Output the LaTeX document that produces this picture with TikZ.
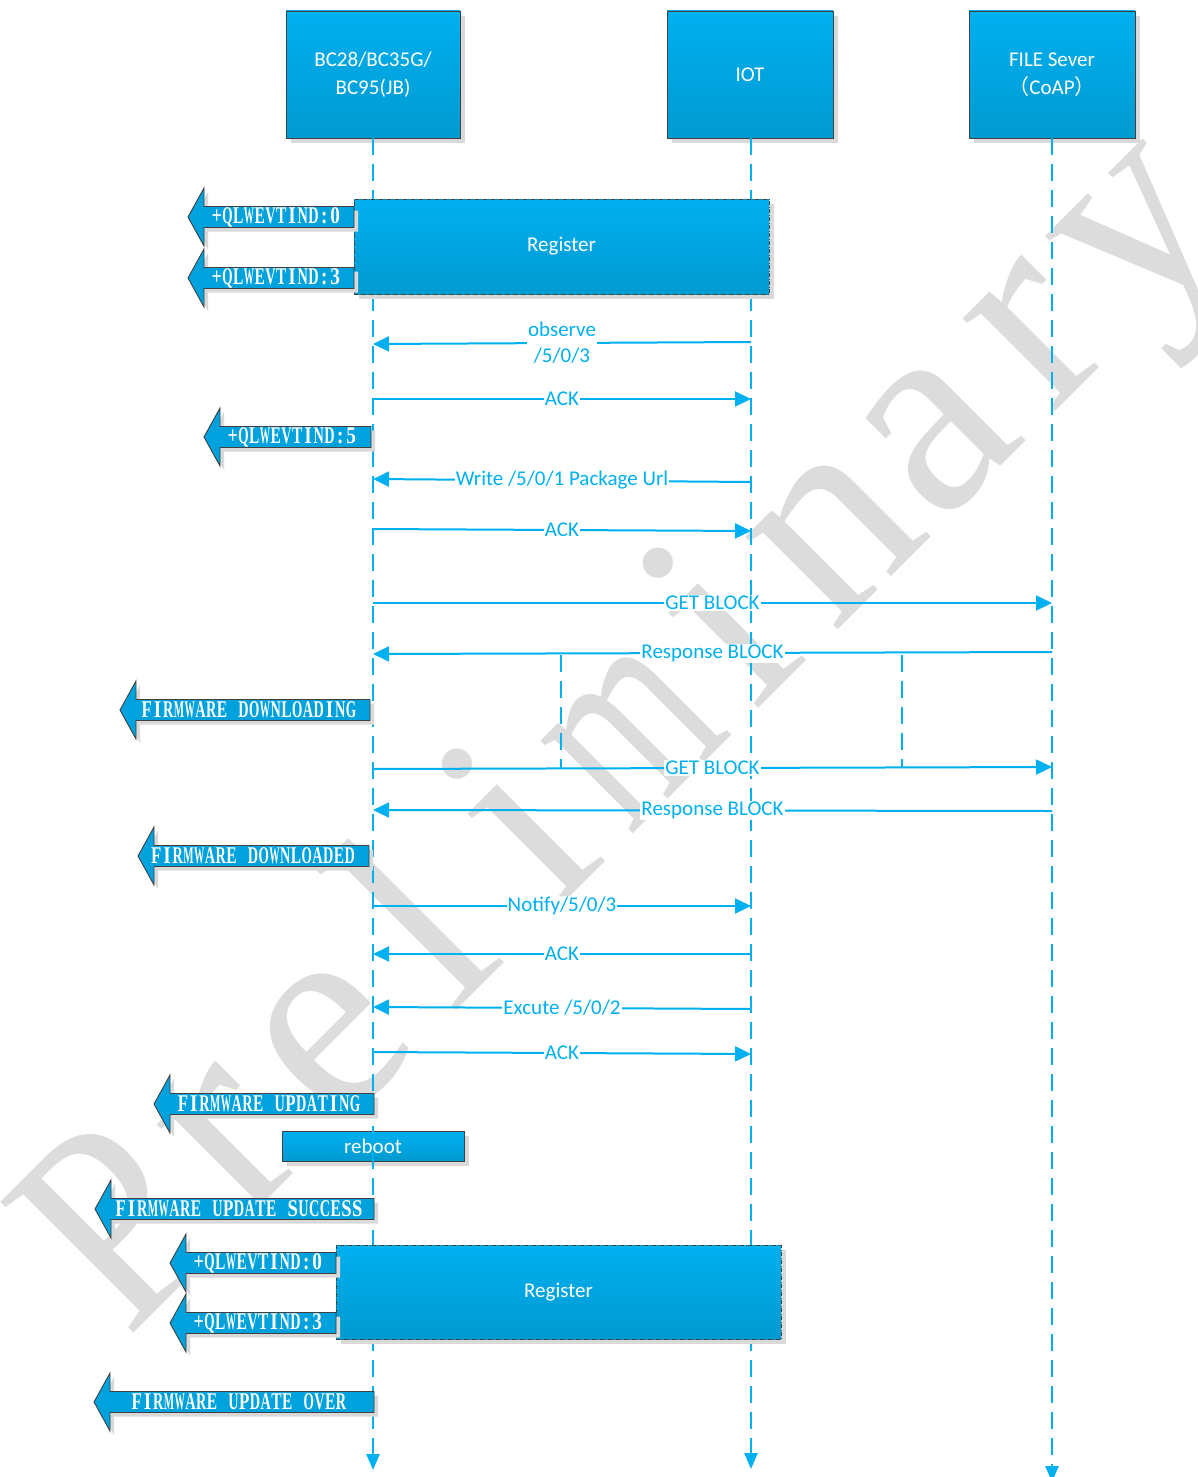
\documentclass[tikz,border=0pt]{standalone}
\usepackage{fontspec}
\setmainfont{Carlito}
\newfontfamily\cjk{Noto Sans CJK SC}
\newfontfamily\condfont[FakeStretch=0.8]{Liberation Serif}
\newfontfamily\wmfont{Liberation Serif}
\usetikzlibrary{arrows.meta,shadows}
\definecolor{lblue}{HTML}{00B0F0}
\definecolor{boxtop}{HTML}{00B0F0}
\definecolor{boxbot}{HTML}{009AD0}
\definecolor{arrfill}{HTML}{00A2DE}
\definecolor{edgec}{HTML}{404040}
\definecolor{shad}{HTML}{D9D9D9}
\definecolor{wmc}{HTML}{DCDCDC}
% fixed-pitch setting of a string (monospaced look of the indication labels)
\newlength\mlen
\newcommand\monochar[1]{\settowidth\mlen{#1}%
  \ifdim\mlen>10.3pt \makebox[10.75pt][c]{\resizebox{10.3pt}{\height}{#1}}%
  \else\makebox[10.75pt][c]{#1}\fi}
\def\monoloop#1{\ifx#1\relax\else\monochar{#1}\expandafter\monoloop\fi}
\newcommand\monotext[1]{\monoloop#1\relax}
% watermark letters, fixed pitch
\newcommand\wl[2][1]{\makebox[142.5pt][c]{\scalebox{#1}[1]{#2}}}
\tikzset{
  hdr/.style={draw=edgec, line width=0.8pt, top color=boxtop, bottom color=boxbot,
    text=white, align=center, inner sep=0pt, font=\fontsize{21}{28}\selectfont,
    drop shadow={shadow xshift=5pt, shadow yshift=-5pt, fill=shad, opacity=1}},
  regbox/.style={hdr, draw=edgec, dash pattern=on 4pt off 1.5pt on 1pt off 1.5pt},
  life/.style={draw=lblue, line width=2.4pt, dash pattern=on 17pt off 9pt},
  lifetip/.style={-{Triangle[length=16pt,width=13pt]}},
  msg/.style={draw=lblue, line width=2pt, -{Triangle[length=16pt,width=15pt]}},
  lbl/.style={fill=white, text=lblue, inner sep=1pt, align=center, font=\fontsize{21}{26}\selectfont},
  arr/.style={fill=arrfill, draw=edgec, line width=0.9pt},
  arrtxt/.style={text=white, inner sep=0pt, font=\condfont\bfseries\fontsize{24}{24}\selectfont},
}
\newcommand\blkarrow[6]{% name, tip x, y, right x, text, text centre x
  \begin{scope}[shift={(4,4)}]
    \fill[shad] (#2,#3) -- ++(16,-29) -- ++(0,18.5) -- (#4,{#3-10.5}) -- (#4,{#3+10.5}) -- ({#2+16},{#3+10.5}) -- ++(0,18.5) -- cycle;
  \end{scope}
  \draw[arr] (#2,#3) -- ++(16,-29) -- ++(0,18.5) -- (#4,{#3-10.5}) -- (#4,{#3+10.5}) -- ({#2+16},{#3+10.5}) -- ++(0,18.5) -- cycle;
  \node[arrtxt] (#1) at (#6,#3) {\monotext{#5}};
}
\begin{document}
\begin{tikzpicture}[x=1pt,y=-1pt]
\useasboundingbox[fill=white] (0,0) rectangle (1197,1477);
% watermark
\node[text=wmc, rotate=45, inner sep=0pt, font=\wmfont\fontsize{285}{285}\selectfont] (wm) at (634,737)
  {\wl[0.9]{P}\wl{r}\wl{e}\wl{l}\wl{i}\wl[0.66]{m}\wl{i}\wl{n}\wl{a}\wl{r}\wl{y}};

% header boxes
\node[hdr, minimum width=174, minimum height=127] (bc) at (373,74.5) {BC28/BC35G/\\BC95(JB)};
\node[hdr, minimum width=166, minimum height=127] (iot) at (750,74.5) {IOT};
\node[hdr, minimum width=166, minimum height=127] (fs) at (1052,74.5) {FILE Sever\\{\cjk （}CoAP{\cjk ）}};

% reboot box
\node[hdr, minimum width=182, minimum height=30, font=\fontsize{21}{24}\selectfont] (reboot) at (373,1146) {reboot};

% lifelines
\coordinate (bcend) at (373,1470);
\coordinate (iotend) at (751,1469);
\coordinate (fsend) at (1052,1482);
\draw[life, lifetip] (bc.south) -- (bcend);
\draw[life, lifetip] (iot.south -| iotend) -- (iotend);
\draw[life, lifetip] (fs.south) -- (fsend);

% register boxes
\node[regbox, minimum width=415, minimum height=95] (reg1) at (561.5,246.5) {Register};
\node[regbox, minimum width=445, minimum height=94] (reg2) at (558.5,1292) {Register};

% message endpoints
\coordinate (i1) at (751,342);  \coordinate (b1) at (373,344);
\coordinate (b2) at (373,399);  \coordinate (i2) at (751,399);
\coordinate (i3) at (751,482);  \coordinate (b3) at (373,479);
\coordinate (b4) at (373,529);  \coordinate (i4) at (751,531);
\coordinate (b5) at (373,603);  \coordinate (f5) at (1052,603);
\coordinate (f6) at (1052,652); \coordinate (b6) at (373,654);
\coordinate (b7) at (373,769);  \coordinate (f7) at (1052,767);
\coordinate (f8) at (1052,811); \coordinate (b8) at (373,810);
\coordinate (b9) at (373,906);  \coordinate (i9) at (751,906);
\coordinate (i10) at (751,954); \coordinate (b10) at (373,954);
\coordinate (i11) at (751,1009);\coordinate (b11) at (373,1007);
\coordinate (b12) at (373,1052);\coordinate (i12) at (751,1054);

% loop markers
\coordinate (la1) at (561,655); \coordinate (la2) at (561,768);
\coordinate (lb1) at (902,655); \coordinate (lb2) at (902,767);
\draw[life] (la1) -- (la2);
\draw[life] (lb1) -- (lb2);

% messages
\draw[msg] (i1) -- (b1) node[lbl, midway] (m1) {observe\\/5/0/3};
\draw[msg] (b2) -- (i2) node[lbl, midway] (m2) {ACK};
\draw[msg] (i3) -- (b3) node[lbl, midway] (m3) {Write /5/0/1 Package Url};
\draw[msg] (b4) -- (i4) node[lbl, midway] (m4) {ACK};
\draw[msg] (b5) -- (f5) node[lbl, midway] (m5) {GET BLOCK};
\draw[msg] (f6) -- (b6) node[lbl, midway] (m6) {Response BLOCK};
\draw[msg] (b7) -- (f7) node[lbl, midway] (m7) {GET BLOCK};
\draw[msg] (f8) -- (b8) node[lbl, midway] (m8) {Response BLOCK};
\draw[msg] (b9) -- (i9) node[lbl, midway] (m9) {Notify/5/0/3};
\draw[msg] (i10) -- (b10) node[lbl, midway] (m10) {ACK};
\draw[msg] (i11) -- (b11) node[lbl, midway] (m11) {Excute /5/0/2};
\draw[msg] (b12) -- (i12) node[lbl, midway] (m12) {ACK};

% block arrows (indications)
\blkarrow{e1}{188}{217}{354}{+QLWEVTIND:0}{276}
\blkarrow{e2}{188}{278}{354}{+QLWEVTIND:3}{276}
\blkarrow{e3}{204}{437}{371}{+QLWEVTIND:5}{292}
\blkarrow{e4}{120}{710}{370}{FIRMWARE~DOWNLOADING}{249}
\blkarrow{e5}{138}{856}{369}{FIRMWARE~DOWNLOADED}{253}
\blkarrow{e6}{154}{1104}{374}{FIRMWARE~UPDATING}{269}
\blkarrow{e7}{95}{1209}{374}{FIRMWARE~UPDATE~SUCCESS}{239}
\blkarrow{e8}{170}{1263}{336}{+QLWEVTIND:0}{258}
\blkarrow{e9}{170}{1323}{336}{+QLWEVTIND:3}{258}
\blkarrow{e10}{94}{1402}{374}{FIRMWARE~UPDATE~OVER}{239}
\end{tikzpicture}
\end{document}
